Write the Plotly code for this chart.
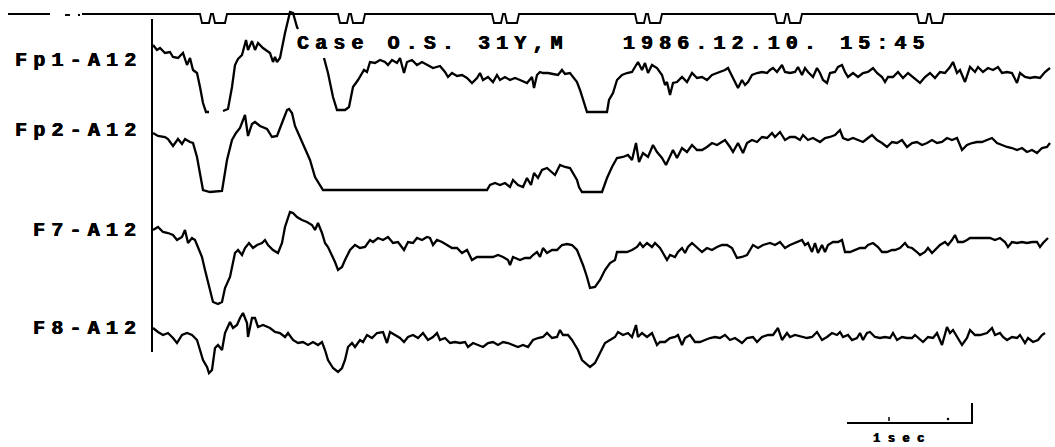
import plotly.graph_objects as go

# ---------------- data (sample index at 125 Hz, deflection in µV; + = downward pen) -------------
FS = 125
CHANNELS = ["Fp1-A12", "Fp2-A12", "F7-A12", "F8-A12"]

fp1_t = [1, 5, 8, 13, 18, 21, 26, 31, 35, 38, 41, 45, 48, 51, 54, 57, None,
         71, 76, 80, 83, 86, 90, 94, 96, 100, 103, 106, 111, 118, 121, 123, 125, 128, 133, 138, 141, 145, 146, None,
         172, 176, 181, 185, 193, 197, 201, 206, 212, 215, 218, 223, 228, 233, 236, 240, 245, 248, 252, 255, 260, 265,
         270, 275, 281, 288, 293, 296, 300, 305, 310, 315, 320, 325, 328, 331, 336, 341, 345, 348, 353, 358, 363, 368,
         375, 380, 382, 385, 388, 391, 396, 401, 406, 410, 413, 418, 421, 425, 428, 431, 435, 441, 455, 457, 461, 465,
         470, 475, 480, 483, 486, 490, 493, 496, 500, 505, 510, 513, 515, 518, 521, 525, 530, 535, 540, 545, 550, 555,
         560, 565, 568, 573, 576, 580, 583, 586, 590, 593, 596, 600, 605, 610, 615, 618, 621, 625, 630, 633, 638, 643,
         646, 650, 653, 656, 661, 665, 668, 671, 675, 678, 683, 686, 690, 693, 696, 701, 706, 711, 716, 721, 725, 730,
         733, 736, 741, 746, 751, 756, 761, 768, 773, 778, 783, 788, 793, 798, 801, 805, 808, 813, 818, 823, 826, 831,
         836, 841, 846, 850, 855, 860, 865, 868, 873, 878, 883, 888, 893, 898]
fp1_v = [-15, -10, -12, -7, -8, -3, -2, -7, 5, -2, 10, 13, 27, 43, 52, 52, None,
         51, 49, 27, 5, -1, -5, -20, -10, -19, -10, -17, -12, -7, 2, -3, 2, -2, -27, -48, -47, -33, -31, None,
         -2, 13, 37, 50, 50, 47, 27, 20, 10, 12, 2, 3, 0, 2, 5, 0, 3, -2, 13, 2, 0, 5,
         2, 5, 8, 6, 12, 17, 13, 16, 15, 18, 23, 18, 13, 20, 17, 22, 15, 20, 17, 20, 18, 20,
         23, 17, 28, 15, 12, 13, 13, 14, 15, 10, 14, 13, 17, 22, 30, 40, 52, 52, 52, 40, 33, 20,
         15, 13, 12, 7, 2, 10, 3, 13, 5, 8, 15, 25, 22, 35, 23, 22, 17, 22, 13, 18, 17, 20,
         15, 13, 12, 10, 8, 17, 22, 28, 20, 25, 22, 15, 13, 12, 13, 10, 8, 12, 5, 12, 13, 12,
         7, 15, 8, 12, 17, 8, 13, 20, 23, 13, 12, 7, 5, 12, 17, 13, 17, 13, 12, 8, 13, 17,
         22, 17, 17, 12, 18, 13, 17, 23, 17, 13, 18, 12, 13, 7, 2, 13, 10, 22, 7, 12, 7, 12,
         8, 10, 7, 13, 12, 13, 23, 13, 17, 18, 17, 18, 12, 8]

fp2_t = [1, 6, 13, 16, 21, 26, 30, 33, 38, 41, 45, 48, 51, 58, 70, 75, 80, 84, 88, 93, 96, 100, 103, 108, 115,
         120, 125, 130, 135, 137, 140, 143, 148, 153, 158, 163, 166, 171, 335, 338, 343, 348, 353, 358, 361, 366,
         371, 375, 379, 382, 386, 390, 395, 399, 403, 408, 413, 418, 421, 425, 427, 430, 450, 455, 460, 465, 471,
         476, 480, 484, 487, 491, 496, 501, 505, 510, 514, 518, 521, 525, 530, 535, 540, 545, 550, 555, 560, 565,
         570, 573, 578, 581, 586, 591, 595, 600, 605, 610, 615, 620, 623, 628, 633, 638, 643, 648, 651, 656, 661,
         668, 673, 678, 683, 688, 691, 696, 701, 706, 711, 716, 720, 725, 730, 735, 740, 745, 750, 755, 760, 765,
         770, 775, 780, 785, 790, 795, 800, 805, 810, 815, 820, 825, 830, 835, 840, 845, 850, 855, 860, 865, 870,
         875, 880, 885, 890, 895, 898]
fp2_v = [-7, -4, -3, -1, 6, -1, 4, -1, 2, 3, 17, 33, 50, 52, 51, 20, 0, -7, -12, -25, -4, -16, -18, -14, -11,
         -3, -4, -17, -30, -31, -27, -14, -3, 8, 20, 37, 42, 50, 50, 45, 43, 45, 43, 47, 40, 45,
         47, 38, 45, 33, 38, 30, 28, 32, 35, 25, 27, 28, 33, 40, 47, 52, 52, 38, 27, 18, 17,
         15, 20, 3, 22, 13, 17, 5, 12, 18, 25, 17, 10, 18, 8, 12, 5, 10, 10, 7, 3, 5,
         2, 0, 7, 12, 3, 13, 3, 0, 2, -3, -2, -7, -3, -8, 0, -3, -3, 0, -5, 0, -2,
         2, -2, -3, -5, -10, -2, 0, -2, 0, 2, -2, -5, 0, 3, 7, 2, 3, 0, 7, 3, 2,
         5, 3, 0, 3, 2, -2, 0, -2, 10, 5, 3, 2, 2, 0, -2, 3, 5, 7, 8, 10, 8,
         12, 10, 13, 8, 7, 3]

f7_t = [1, 6, 11, 16, 21, 25, 30, 33, 36, 40, 43, 46, 50, 53, 57, 61, 66, 70, 73, 78, 83, 86, 90, 93, 97, 101,
        105, 110, 113, 116, 121, 126, 130, 133, 138, 141, 145, 150, 155, 160, 163, 166, 170, 173, 176, 180, 183,
        186, 190, 193, 198, 203, 208, 213, 218, 221, 226, 231, 236, 241, 246, 252, 256, 261, 265, 270, 275, 278,
        281, 285, 290, 295, 300, 305, 310, 315, 320, 325, 330, 335, 341, 346, 351, 356, 358, 361, 368, 373, 378,
        381, 385, 388, 391, 395, 400, 405, 410, 415, 420, 425, 428, 431, 435, 438, 443, 448, 453, 458, 463, 465,
        470, 475, 480, 485, 488, 491, 495, 500, 503, 508, 511, 515, 518, 523, 526, 530, 533, 536, 540, 545, 550,
        555, 560, 565, 570, 575, 580, 585, 590, 595, 598, 601, 606, 611, 618, 623, 628, 633, 638, 643, 650, 653,
        656, 660, 663, 666, 670, 673, 676, 681, 686, 690, 693, 698, 703, 708, 713, 716, 721, 726, 730, 735, 740,
        743, 748, 753, 756, 760, 765, 768, 773, 776, 780, 783, 788, 793, 796, 800, 803, 806, 811, 815, 818, 825,
        831, 838, 843, 848, 853, 856, 860, 865, 870, 875, 880, 885, 888, 891, 896]
f7_v = [-10, -13, -8, -7, -5, 0, -3, -10, 3, -2, 0, 7, 17, 30, 47, 62, 64, 62, 48, 37, 13, 10, 15, 8, 3, 8,
        5, 3, 0, 5, 10, 13, 3, -13, -28, -27, -23, -20, -18, -15, -10, -17, -7, 3, 7, 15, 22,
        30, 27, 20, 10, 5, 8, 7, 0, 2, -2, 0, -3, 3, 2, 10, 2, 3, -2, 0, -3, -2,
        5, 0, 2, 5, 8, 8, 13, 10, 20, 17, 17, 17, 17, 15, 17, 20, 25, 17, 20, 18, 18,
        15, 12, 17, 8, 13, 10, 10, 5, 4, 5, 10, 17, 25, 37, 48, 47, 40, 30, 23, 20, 12,
        12, 12, 10, 7, 3, 7, 3, 7, 3, 8, 13, 20, 15, 17, 12, 8, 13, 7, 3, 8, 12,
        8, 10, 7, 5, 5, 8, 18, 17, 15, 10, 5, 8, 5, 3, 5, 2, 8, 5, 3, 0, 5,
        3, 12, 3, 13, 5, 12, 5, 2, 2, 0, 12, 12, 10, 8, 8, 5, 3, 7, 12, 12, 10,
        10, 8, 3, 7, 8, 12, 15, 12, 8, 13, 10, 5, 2, 5, 0, -5, 2, 2, 0, -2, -2,
        -2, -2, 0, -2, 2, 7, 2, 3, 2, 3, 2, 2, 7, 3, -2]

f8_t = [1, 6, 11, 16, 21, 25, 30, 35, 40, 45, 48, 51, 55, 57, 60, 63, 66, 70, 73, 78, 81, 85, 88, 91, 95, 96,
        100, 103, 106, 111, 118, 123, 128, 133, 136, 141, 146, 151, 156, 161, 166, 170, 173, 176, 181, 186, 190,
        193, 196, 200, 203, 208, 211, 215, 220, 225, 231, 235, 238, 243, 248, 252, 256, 261, 266, 271, 276, 281,
        285, 288, 293, 298, 303, 308, 313, 316, 321, 326, 331, 336, 341, 346, 351, 356, 361, 366, 371, 376, 381,
        386, 391, 395, 400, 405, 408, 411, 416, 420, 423, 426, 430, 433, 438, 443, 448, 453, 458, 463, 466, 471,
        476, 480, 484, 486, 490, 495, 500, 505, 508, 513, 518, 523, 526, 530, 533, 538, 543, 548, 553, 558, 563,
        568, 573, 578, 583, 590, 595, 601, 605, 610, 616, 621, 626, 630, 635, 638, 643, 650, 655, 660, 665, 670,
        675, 680, 685, 688, 691, 696, 700, 705, 708, 711, 715, 718, 723, 728, 733, 738, 741, 745, 750, 755, 760,
        763, 768, 771, 776, 781, 785, 790, 795, 798, 801, 805, 810, 815, 818, 823, 828, 835, 840, 843, 848, 851,
        855, 860, 865, 868, 873, 876, 881, 886, 890, 893]
f8_v = [-12, -8, -5, -7, -2, 3, -5, -7, -5, 0, 10, 20, 27, 33, 30, 8, 5, 10, -7, -18, -12, -15, -22, -27, -17, -3,
        -22, -22, -13, -15, -12, -8, -7, -3, -7, 0, 3, 2, 5, 2, 5, 2, 10, 20, 28, 32, 28,
        20, 7, 3, 7, 0, 2, -5, -2, -7, -8, 3, -8, -5, -2, 2, -3, -5, -2, -7, 0, -3,
        -7, 0, -2, 3, 2, 3, 2, 7, 3, 5, 7, 3, 2, 5, 2, 3, 5, 7, 5, 7, 0,
        -2, -3, -7, -2, -3, -10, -5, -5, 0, 5, 10, 20, 23, 27, 23, 13, 3, 0, -3, -8, -5,
        -7, -3, -15, -3, -7, -3, -7, 5, 2, 2, -2, -3, -5, 5, -2, -5, 2, 2, 0, -2, -3,
        -2, -5, 0, -2, 3, -2, -3, 2, -3, -5, -5, -12, 0, -7, -3, -5, -3, -2, -3, -8, 0,
        -3, -7, -5, -8, -3, -5, 0, -2, -7, 0, -7, -8, -3, -2, -3, -2, -7, 0, -3, -2, -2,
        -5, 0, 2, -3, -2, -7, 5, -13, -7, -10, -3, 5, -2, -10, -5, -5, -7, -12, -5, -7, -3,
        0, -3, -2, -5, 3, -2, 2, 0, -5, -7]

SERIES = [(fp1_t, fp1_v), (fp2_t, fp2_v), (f7_t, f7_v), (f8_t, f8_v)]

# event-marker channel: onsets of the double pulses (samples)
marker_onsets = [48, 186, 340, 483, 623, 765]
PULSE_T = [0, 2, 9, 11, 13, 15, 25, 27]
PULSE_LVL = [0, 1, 1, 0, 0, 1, 1, 0]

# ---------------- layout constants ----------------
CH_OFFSET = [60, 140, 240, 340]
LABEL_Y = [60, 130, 230, 328]
MARK_Y, MARK_DEPTH = 14, 9
X0, X1 = -152, 903
W, H = 1055, 447
FONT = "Liberation Mono"
BOLDEN = "0.6px 0px 0px #000, -0.3px 0px 0px #000"

fig = go.Figure()

# EEG channels
for (t, v), off in zip(SERIES, CH_OFFSET):
    y = [None if a is None else off + a for a in v]
    fig.add_trace(go.Scatter(x=t, y=y, mode="lines", line=dict(color="black", width=2.3),
                             connectgaps=False, hoverinfo="skip", showlegend=False))

# marker line
mx = [-144, -102, None, -87, -82, None, -74, -72, None, -70]
my = [MARK_Y, MARK_Y, None, MARK_Y + 1, MARK_Y + 1, None, MARK_Y + 1, MARK_Y + 1, None, MARK_Y]
for on in marker_onsets:
    for dt, lv in zip(PULSE_T, PULSE_LVL):
        mx.append(on + dt)
        my.append(MARK_Y + lv * MARK_DEPTH)
mx.append(X1)
my.append(MARK_Y)
fig.add_trace(go.Scatter(x=mx, y=my, mode="lines", line=dict(color="black", width=1.9),
                         connectgaps=False, hoverinfo="skip", showlegend=False))

# start line
fig.add_shape(type="line", x0=0, x1=0, y0=19, y1=352, xref="x", yref="y",
              line=dict(color="black", width=2))

# 1 sec calibration bar
SCALE_START = 695
fig.add_trace(go.Scatter(x=[SCALE_START, SCALE_START + FS, SCALE_START + FS],
                         y=[423, 423, 403], mode="lines", line=dict(color="black", width=2),
                         hoverinfo="skip", showlegend=False))
fig.add_trace(go.Scatter(x=[SCALE_START + 42, SCALE_START + 42], y=[417, 421], mode="lines",
                         line=dict(color="black", width=1.5), hoverinfo="skip", showlegend=False))
fig.add_trace(go.Scatter(x=[SCALE_START + 101], y=[419], mode="markers",
                         marker=dict(color="black", size=2.5), hoverinfo="skip", showlegend=False))

def spaced(s, ls):
    return f'<span style="letter-spacing:{ls}px">{s}</span>'

for name, ly in zip(CHANNELS, LABEL_Y):
    fig.add_annotation(x=-8, y=ly, xref="x", yref="y", text=spaced(name, 6.2), showarrow=False,
                       xanchor="right", yanchor="middle",
                       font=dict(family=FONT, size=20, color="black", weight="bold", shadow=BOLDEN))

fig.add_annotation(x=143, y=43, xref="x", yref="y",
                   text=spaced("Case O.S. 31Y,M   1986.12.10. 15:45", 6.1), showarrow=False,
                   xanchor="left", yanchor="middle",
                   font=dict(family=FONT, size=20, color="black", weight="bold", shadow=BOLDEN))

fig.add_annotation(x=SCALE_START + 55, y=439, xref="x", yref="y", text=spaced("1sec", 7.5),
                   showarrow=False, xanchor="center", yanchor="middle",
                   font=dict(family=FONT, size=12, color="black", weight="bold", shadow=BOLDEN))

fig.update_layout(width=W, height=H, margin=dict(l=0, r=0, t=0, b=0),
                  paper_bgcolor="white", plot_bgcolor="white",
                  xaxis=dict(range=[X0, X1], visible=False, fixedrange=True),
                  yaxis=dict(range=[H, 0], visible=False, fixedrange=True))

fig.write_html("out.html", config={"displayModeBar": False},
               post_script="document.body.style.margin='0px';document.body.style.overflow='hidden';")
